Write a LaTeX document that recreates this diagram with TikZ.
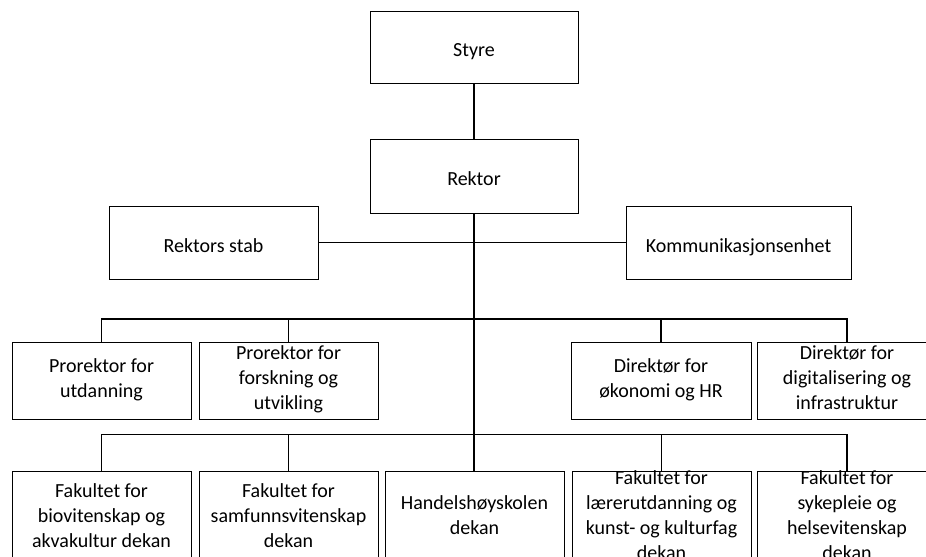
\documentclass[tikz,border=0pt]{standalone}
\usepackage{fontspec}
\setmainfont{Carlito}
\begin{document}
\begin{tikzpicture}[x=0.75pt,y=-0.75pt,
  orgbox/.style 2 args={draw=black, line width=0.75pt, fill=white, align=center,
    minimum width=#1*0.75pt, minimum height=#2*0.75pt, inner sep=0pt,
    font=\fontsize{15pt}{18.75pt}\selectfont,
    execute at begin node={\rule{0pt}{1.2em}},
    execute at end node={\rule[-0.25em]{0pt}{0.25em}}},
  link/.style={draw=black, line width=1.3pt}]
\fill[white] (0,0) rectangle (926,557);
\useasboundingbox (0,0) rectangle (926,557);
\clip (0,0) rectangle (926,557);
% top
\node[orgbox={208}{72}] (styre) at (474,47) {Styre};
\node[orgbox={208}{74}] (rektor) at (474,176) {Rektor};
\node[orgbox={209}{73}] (stab) at (213.5,242.5) {Rektors stab};
\node[orgbox={225}{73}] (komm) at (738.5,242.5) {Kommunikasjonsenhet};
% row 2
\node[orgbox={179}{77}] (p1) at (101.5,380.5) {Prorektor for\\utdanning};
\node[orgbox={179}{77}] (p2) at (288.5,380.5) {Prorektor for\\forskning og\\utvikling};
\node[orgbox={180}{77}] (d1) at (661,380.5) {Direktør for\\økonomi og HR};
\node[orgbox={180}{77}] (d2) at (847,380.5) {Direktør for\\digitalisering og\\infrastruktur};
% row 3
\node[orgbox={179}{94}] (f1) at (101.5,518) {Fakultet for\\biovitenskap og\\akvakultur dekan};
\node[orgbox={179}{94}] (f2) at (288.5,518) {Fakultet for\\samfunnsvitenskap\\dekan};
\node[orgbox={179}{94}] (hh) at (474.5,518) {Handelshøyskolen\\dekan};
\node[orgbox={179}{94}] (f4) at (661.5,518) {Fakultet for\\lærerutdanning og\\kunst- og kulturfag\\dekan};
\node[orgbox={180}{94}] (f5) at (847,518) {Fakultet for\\sykepleie og\\helsevitenskap\\dekan};
% junctions
\coordinate (b2) at (474,319);
\coordinate (b3) at (474,434.5);
% connectors
\draw[link] (styre.south) -- (rektor.north);
\draw[link] (rektor.south) -- (rektor.south |- hh.north);
\draw[link] (stab.east) -- (komm.west);
\draw[link] (p1.north) |- (b2) -| (d2.north);
\draw[link] (p2.north) -- (p2.north |- b2);
\draw[link] (d1.north) -- (d1.north |- b2);
\draw[link] (f1.north) |- (b3) -| (f5.north);
\draw[link] (f2.north) -- (f2.north |- b3);
\draw[link] (f4.north) -- (f4.north |- b3);
\end{tikzpicture}
\end{document}
